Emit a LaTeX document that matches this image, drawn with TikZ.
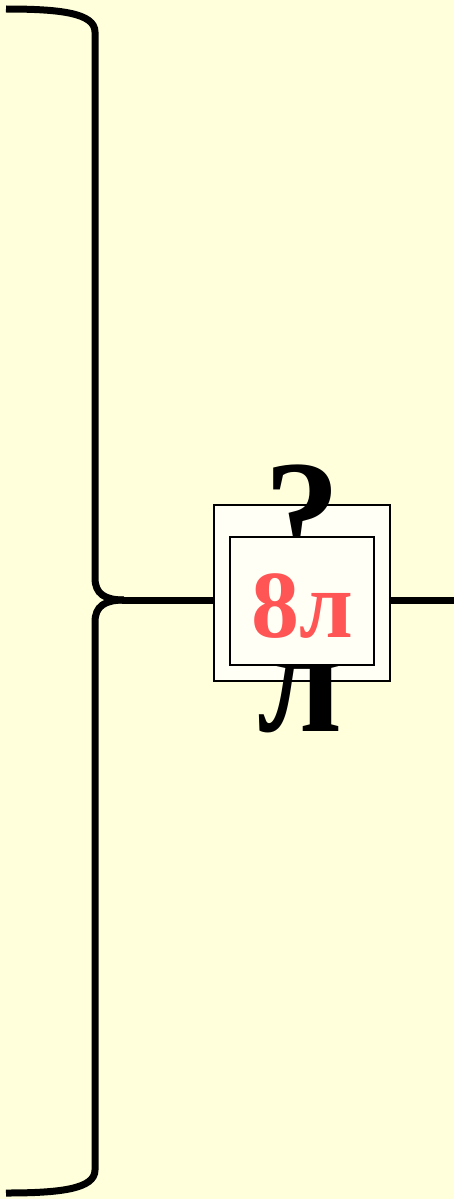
\documentclass[tikz,border=0pt]{standalone}
\usepackage{fontspec}
\setmainfont{Liberation Serif}
\definecolor{bg}{HTML}{FFFFDC}
\definecolor{boxfill}{HTML}{FFFFF5}
\definecolor{redtext}{HTML}{FF5555}
\begin{document}
\begin{tikzpicture}[x=1pt,y=-1pt,
  brace/.style={line width=7pt, line cap=butt},
  wire/.style={line width=7pt},
  frame/.style={draw, line width=2pt, fill=boxfill, inner sep=0pt},
  bigglyph/.style={inner sep=0pt, anchor=base, font=\fontsize{152pt}{152pt}\selectfont\bfseries},
  label/.style={inner sep=0pt, anchor=base, text=redtext, font=\fontsize{96pt}{96pt}\selectfont\bfseries}]
\fill[bg] (0,0) rectangle (454,1199);
\useasboundingbox (0,0) rectangle (454,1199);
% brace
\draw[brace] (6,9) .. controls (60,9) and (95,13) .. (95,32) -- (95,578) .. controls (95,594) and (105,600) .. (124,600);
\draw[brace] (124,600) .. controls (105,600) and (95,606) .. (95,622) -- (95,1170) .. controls (95,1189) and (60,1193) .. (6,1193);
\coordinate (tip) at (122,600);
\coordinate (rend) at (454,600);
% boxes and text
\node[frame, minimum width=176pt, minimum height=176pt] (outer) at (302,593) {};
\node[bigglyph] (q) at (302,565) {?};
\node[bigglyph] (l) at (300,731) {л};
\node[frame, minimum width=144pt, minimum height=128pt] (inner) at (302,601) {};
\node[label] (lab) at (302,637) {8л};
% connectors
\draw[wire] (tip) -- (tip -| outer.west);
\draw[wire] (tip -| outer.east) -- (rend);
\end{tikzpicture}
\end{document}
